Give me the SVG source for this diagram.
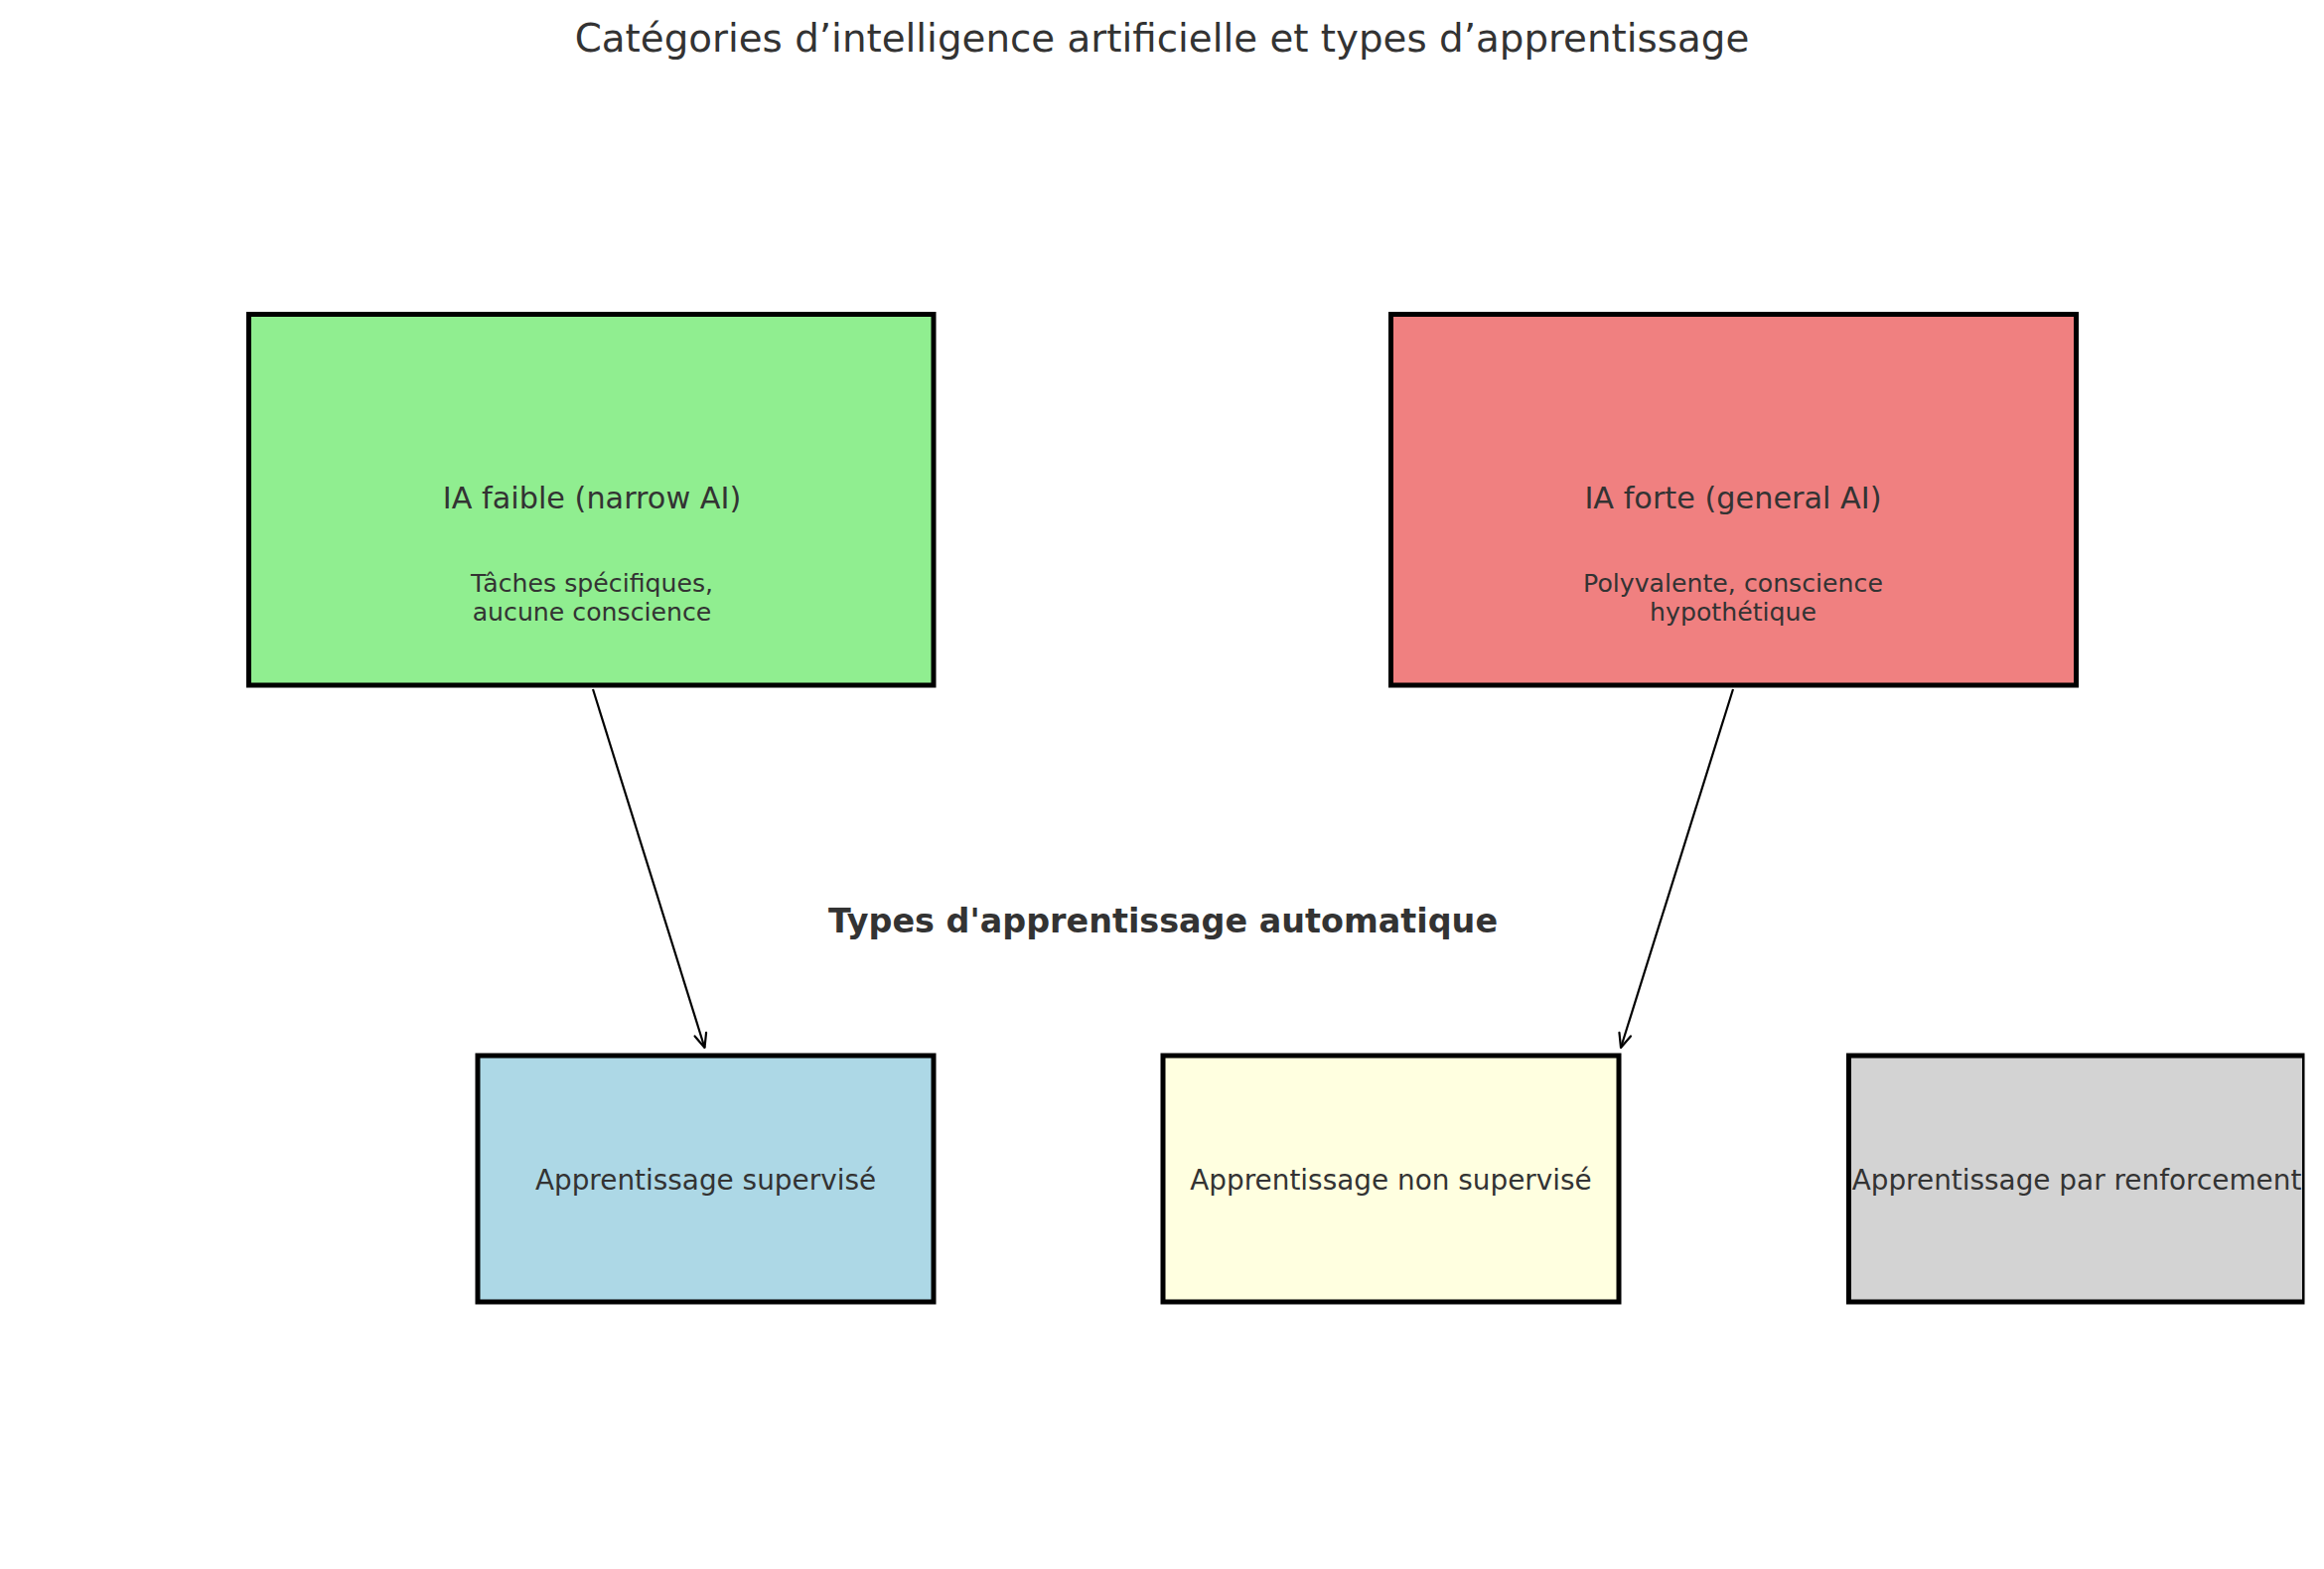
<svg xmlns="http://www.w3.org/2000/svg" width="2340" height="1580" viewBox="0 0 2340 1580">
  <style>
    .box { stroke: #000000; stroke-width: 5; }
    .t { font-family: "DejaVu Sans", "Liberation Sans", sans-serif; fill: #333333; text-anchor: middle; }
    .main { font-size: 30.3px; }
    .sub { font-size: 25.2px; }
    .lbl { font-size: 27.9px; }
    .title { font-size: 38.8px; }
    .bold { font-size: 33.4px; font-weight: bold; }
    .conn { stroke: #000000; stroke-width: 2.2; fill: none; }
  </style>
  <defs>
    <marker id="arrow" markerUnits="userSpaceOnUse" markerWidth="30" markerHeight="30" refX="0" refY="0" viewBox="-20 -10 30 20" orient="auto" overflow="visible">
      <path d="M-14,-6 L0,0 L-14,6" fill="none" stroke="#000000" stroke-width="2.2" stroke-linejoin="round" stroke-linecap="round"/>
    </marker>
    <clipPath id="axclip">
      <rect x="0" y="0" width="2320.5" height="1580"/>
    </clipPath>
  </defs>
  <rect x="0" y="0" width="2340" height="1580" fill="#ffffff"/>

  <text class="t title" x="1170" y="52">Catégories d’intelligence artificielle et types d’apprentissage</text>

  <g id="node-ia-faible">
    <rect class="box" x="250.5" y="316.5" width="689.5" height="373.5" fill="#90EE90"/>
    <text class="t main" x="596" y="511.5">IA faible (narrow AI)</text>
    <text class="t sub" x="596" y="595.5">Tâches spécifiques,</text>
    <text class="t sub" x="596" y="624.5">aucune conscience</text>
  </g>

  <g id="node-ia-forte">
    <rect class="box" x="1400.5" y="316.5" width="690" height="373.5" fill="#F08080"/>
    <text class="t main" x="1745" y="511.5">IA forte (general AI)</text>
    <text class="t sub" x="1745" y="595.5">Polyvalente, conscience</text>
    <text class="t sub" x="1745" y="624.5">hypothétique</text>
  </g>

  <g id="section-label">
    <text class="t bold" x="1171" y="939">Types d'apprentissage automatique</text>
  </g>

  <g id="node-supervise">
    <rect class="box" x="481" y="1063" width="459" height="248" fill="#ADD8E6"/>
    <text class="t lbl" x="710.5" y="1198">Apprentissage supervisé</text>
  </g>

  <g id="node-non-supervise">
    <rect class="box" x="1171" y="1063" width="459" height="248" fill="#FFFFE0"/>
    <text class="t lbl" x="1400.5" y="1198">Apprentissage non supervisé</text>
  </g>

  <g id="node-renforcement">
    <rect class="box" x="1861.5" y="1063" width="459" height="248" fill="#D3D3D3" clip-path="url(#axclip)"/>
    <text class="t lbl" x="2091" y="1198">Apprentissage par renforcement</text>
  </g>

  <g id="connectors">
    <line class="conn" x1="597" y1="694" x2="709.5" y2="1055" marker-end="url(#arrow)"/>
    <line class="conn" x1="1745" y1="694" x2="1632" y2="1055" marker-end="url(#arrow)"/>
  </g>
</svg>
